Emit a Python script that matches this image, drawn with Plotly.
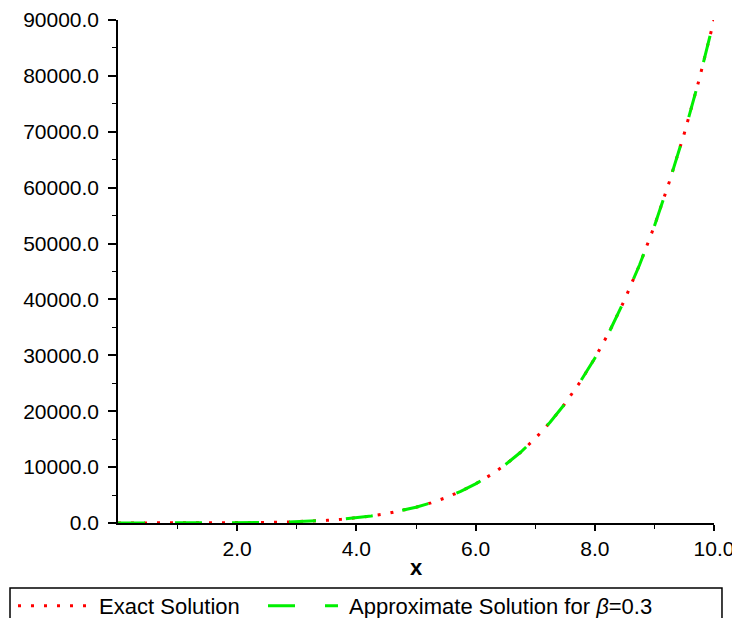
import plotly.graph_objects as go

x_vals = [0, 0.25, 0.5, 0.75, 1, 1.25, 1.5, 1.75, 2, 2.25, 2.5, 2.75, 3, 3.25, 3.5,
          3.75, 4, 4.25, 4.5, 4.75, 5, 5.25, 5.5, 5.75, 6, 6.25, 6.5, 6.75, 7, 7.25,
          7.5, 7.75, 8, 8.25, 8.5, 8.75, 9, 9.25, 9.5, 9.75, 10]
exact_vals = [0, 0, 0, 0, 1, 3, 7, 15, 29, 52, 88, 142, 219, 326, 473,
              667, 922, 1248, 1661, 2177, 2813, 3590, 4530, 5665, 6998, 8583, 10443, 12612, 15126, 18020,
              21357, 25177, 29491, 34349, 39934, 46161, 53144, 61036, 69640, 79299, 90000]
approx_vals = [0, 0, 0, 0, 1, 3, 7, 15, 29, 52, 88, 142, 219, 326, 473,
               667, 922, 1248, 1661, 2177, 2813, 3590, 4530, 5665, 6998, 8583, 10443, 12612, 15126, 18020,
               21357, 25177, 29491, 34349, 39934, 46161, 53144, 61036, 69640, 79299, 90000]
x_ticks = [2, 4, 6, 8, 10]
y_ticks = [0, 10000, 20000, 30000, 40000, 50000, 60000, 70000, 80000, 90000]

FONT = "Liberation Sans, Arial, sans-serif"
NB = "\u00a0"

fig = go.Figure()
fig.add_trace(go.Scatter(
    x=x_vals, y=exact_vals, mode="lines", name=NB + "Exact Solution",
    line=dict(color="#ff0000", width=3, dash="3px,10px"),
    legend="legend",
))
fig.add_trace(go.Scatter(
    x=x_vals, y=approx_vals, mode="lines",
    name=NB + "Approximate Solution for <i>β</i>=0.3",
    line=dict(color="#00f000", width=3, dash="27px,30px"),
    legend="legend2",
))

leg_common = dict(
    orientation="h", xanchor="left", yanchor="top", y=-0.123,
    bgcolor="rgba(0,0,0,0)", borderwidth=0,
    font=dict(family=FONT, size=22, color="black"),
    itemwidth=70,
)

fig.update_layout(
    width=740, height=618,
    margin=dict(l=110, r=34, t=12, b=103, autoexpand=False),
    paper_bgcolor="white", plot_bgcolor="white",
    font=dict(family=FONT, size=21, color="black"),
    showlegend=True,
    legend=dict(x=-0.1762, **leg_common),
    legend2=dict(x=0.2433, **leg_common),
    shapes=[dict(type="rect", xref="paper", yref="paper",
                 x0=-0.1812, x1=1.0134, y0=-0.1292, y1=-0.25,
                 line=dict(color="black", width=1.5), fillcolor="rgba(0,0,0,0)",
                 layer="below")],
    xaxis=dict(
        range=[0, 10], tickvals=x_ticks, tickformat=".1f",
        showgrid=False, zeroline=False,
        showline=True, linecolor="black", linewidth=1.5,
        ticks="outside", ticklen=6, tickcolor="black", tickwidth=1.5,
        minor=dict(tickvals=[1, 3, 5, 7, 9], ticks="outside", ticklen=4, tickcolor="black", tickwidth=1),
        title=dict(text="<b>x</b>", font=dict(size=22), standoff=1),
        tickfont=dict(size=21),
    ),
    yaxis=dict(
        range=[0, 90000], tickvals=y_ticks, tickformat=".1f",
        showgrid=False, zeroline=False,
        showline=True, linecolor="black", linewidth=1.5,
        ticks="outside", ticklen=8, tickcolor="black", tickwidth=1.5,
        ticklabelstandoff=5,
        minor=dict(tickvals=[5000, 15000, 25000, 35000, 45000, 55000, 65000, 75000, 85000],
                   ticks="outside", ticklen=4, tickcolor="black", tickwidth=1),
        tickfont=dict(size=21),
    ),
)

fig.write_html("out.html")
